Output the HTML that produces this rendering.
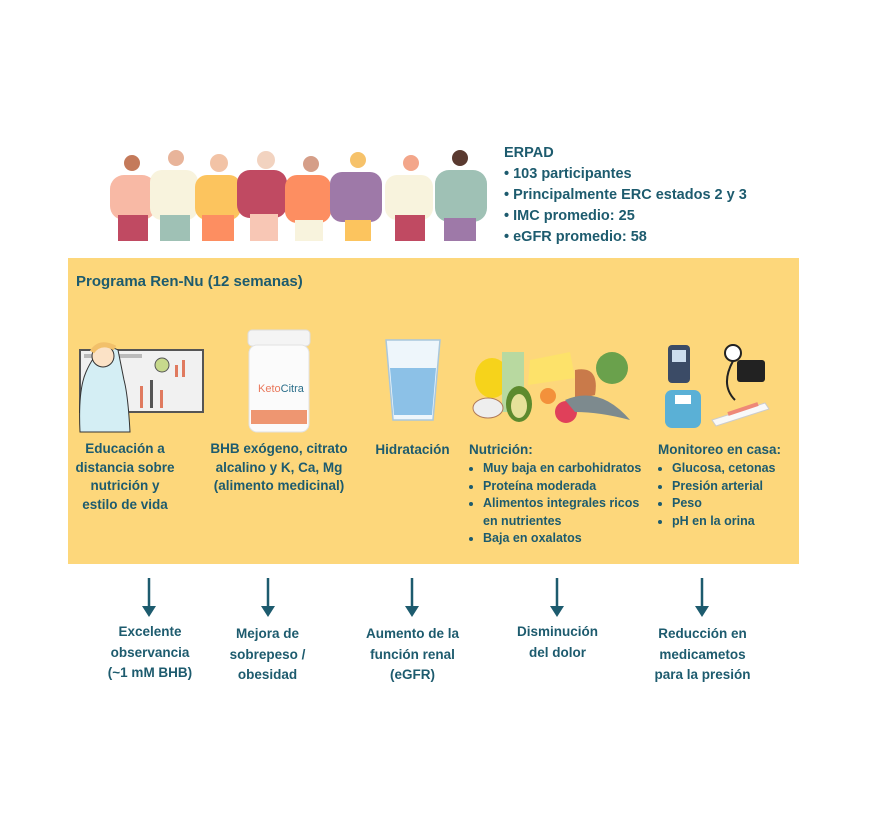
<!DOCTYPE html>
<html><head><meta charset="utf-8"><style>
body{margin:0;width:876px;height:826px;background:#fff;position:relative;overflow:hidden;font-family:"Liberation Sans",sans-serif;color:#1d5b6e;font-weight:bold}
.a{position:absolute;white-space:nowrap}
.c{text-align:center;font-size:13.5px;line-height:19px}
.l{font-size:12.5px;line-height:17.5px}
ul{margin:0;padding:0 0 0 14px}
</style></head><body>
<svg class="a" style="left:0;top:0" width="876" height="826">
<g>
<rect x="110" y="175" width="46" height="45" rx="14" fill="#f8b9a5"/><rect x="118" y="215" width="30" height="26" fill="#c04a62"/><circle cx="132" cy="163" r="8" fill="#c47a5a"/>
<rect x="150" y="170" width="48" height="50" rx="12" fill="#f8f3dd"/><rect x="160" y="215" width="30" height="26" fill="#9fc1b5"/><circle cx="176" cy="158" r="8" fill="#e8b49a"/>
<rect x="195" y="175" width="46" height="45" rx="12" fill="#fcc45e"/><rect x="202" y="215" width="32" height="26" fill="#fd8e61"/><circle cx="219" cy="163" r="9" fill="#f2c3a6"/>
<rect x="237" y="170" width="50" height="48" rx="13" fill="#c04a62"/><rect x="250" y="214" width="28" height="27" fill="#f8c7b5"/><circle cx="266" cy="160" r="9" fill="#f2d3c0"/>
<rect x="285" y="175" width="46" height="48" rx="12" fill="#fd8e61"/><rect x="295" y="220" width="28" height="21" fill="#f8f3dd"/><circle cx="311" cy="164" r="8" fill="#d59e88"/>
<rect x="330" y="172" width="52" height="50" rx="12" fill="#9e79a8"/><rect x="345" y="220" width="26" height="21" fill="#fcc45e"/><circle cx="358" cy="160" r="8" fill="#f6c26a"/>
<rect x="385" y="175" width="48" height="45" rx="12" fill="#f8f3dd"/><rect x="395" y="215" width="30" height="26" fill="#c04a62"/><circle cx="411" cy="163" r="8" fill="#f3a68a"/>
<rect x="435" y="170" width="52" height="52" rx="14" fill="#9fc1b5"/><rect x="444" y="218" width="32" height="23" fill="#9e79a8"/><circle cx="460" cy="158" r="8" fill="#5a3a30"/>
</g>
<rect x="68" y="258" width="731" height="306" fill="#fdd77b"/>
<rect x="80" y="350" width="123" height="62" fill="#f1f1f1" stroke="#555" stroke-width="2"/>
<rect x="140" y="386" width="3" height="22" fill="#e07a5f"/><rect x="150" y="380" width="3" height="28" fill="#555"/><rect x="160" y="390" width="3" height="18" fill="#e07a5f"/><rect x="175" y="365" width="3" height="12" fill="#e07a5f"/><rect x="182" y="360" width="3" height="17" fill="#e07a5f"/>
<circle cx="162" cy="365" r="7" fill="#c7d98c" stroke="#555"/>
<rect x="84" y="354" width="58" height="4" fill="#bbb"/>
<path d="M86 372 Q100 340 118 350 L124 380 Q128 395 130 432 L80 432 Q78 390 86 372Z" fill="#d4eef4" stroke="#333"/><circle cx="103" cy="356" r="11" fill="#fbe2c6" stroke="#333"/><path d="M92 352 Q100 340 115 348" stroke="#f2c06a" stroke-width="5" fill="none"/>
<rect x="248" y="330" width="62" height="16" rx="4" fill="#f4f4f4" stroke="#ddd"/>
<rect x="249" y="345" width="60" height="87" rx="8" fill="#fbfbfb" stroke="#e2e2e2"/>
<rect x="251" y="410" width="56" height="14" fill="#ee9671"/>
<text x="258" y="392" font-size="11" fill="#e9785c" font-weight="normal">Keto<tspan fill="#2a6e8a">Citra</tspan></text>
<path d="M386 340 L440 340 L433 420 L393 420Z" fill="#eef6fb" stroke="#a9c7dc" stroke-width="1.5"/>
<path d="M390 368 L436 368 L432 415 L394 415Z" fill="#8cc1e7"/>
<ellipse cx="492" cy="378" rx="17" ry="20" fill="#f6d31b"/><rect x="502" y="352" width="22" height="60" fill="#b8d9a0"/>
<path d="M530 360 L570 352 L575 378 L528 385Z" fill="#fde26a"/><circle cx="612" cy="368" r="16" fill="#6aa14c"/>
<path d="M575 370 Q600 365 595 395 L575 400Z" fill="#c97a4a"/>
<ellipse cx="519" cy="404" rx="13" ry="18" fill="#5d8a2e"/><ellipse cx="519" cy="406" rx="8" ry="12" fill="#e6e19a"/>
<ellipse cx="488" cy="408" rx="15" ry="10" fill="#eee" stroke="#b07a5a"/><circle cx="548" cy="396" r="8" fill="#f3913b"/>
<circle cx="566" cy="412" r="11" fill="#e0405a"/><path d="M565 400 Q600 385 630 420 Q600 412 575 412Z" fill="#7d8a8e"/>
<rect x="668" y="345" width="22" height="38" rx="4" fill="#3b4b66"/><rect x="672" y="350" width="14" height="12" fill="#cde"/>
<circle cx="733" cy="353" r="8" fill="#fff" stroke="#222" stroke-width="2"/><path d="M733 361 Q720 385 735 400" stroke="#222" stroke-width="2" fill="none"/><rect x="737" y="360" width="28" height="22" rx="3" fill="#222"/>
<rect x="665" y="390" width="36" height="38" rx="7" fill="#5ab0d6"/><rect x="675" y="395" width="16" height="9" fill="#fff"/>
<path d="M712 420 L765 403 L769 409 L716 426Z" fill="#f9f9f9" stroke="#ccc"/><path d="M728 414 L758 404" stroke="#e87" stroke-width="4"/>
<g stroke="#1d5b6e" stroke-width="2.5" fill="#1d5b6e">
<line x1="149" y1="578" x2="149" y2="608"/><path d="M142 606 L156 606 L149 617Z" stroke="none"/>
<line x1="268" y1="578" x2="268" y2="608"/><path d="M261 606 L275 606 L268 617Z" stroke="none"/>
<line x1="412" y1="578" x2="412" y2="608"/><path d="M405 606 L419 606 L412 617Z" stroke="none"/>
<line x1="557" y1="578" x2="557" y2="608"/><path d="M550 606 L564 606 L557 617Z" stroke="none"/>
<line x1="702" y1="578" x2="702" y2="608"/><path d="M695 606 L709 606 L702 617Z" stroke="none"/>
</g>
</svg>
<div class="a" style="left:504px;top:143px;font-size:14.5px;line-height:21px">ERPAD<br>• 103 participantes<br>• Principalmente ERC estados 2 y 3<br>• IMC promedio: 25<br>• eGFR promedio: 58</div>
<div class="a" style="left:76px;top:273px;font-size:15px">Programa Ren-Nu (12 semanas)</div>
<div class="a c" style="left:65px;top:440px;width:120px;line-height:18.5px">Educación a<br>distancia sobre<br>nutrición y<br>estilo de vida</div>
<div class="a c" style="left:199px;top:440px;width:160px;line-height:18.5px">BHB exógeno, citrato<br>alcalino y K, Ca, Mg<br>(alimento medicinal)</div>
<div class="a c" style="left:365px;top:440px;width:95px">Hidratación</div>
<div class="a" style="left:469px;top:440px;font-size:13.5px;line-height:19px">Nutrición:</div>
<div class="a l" style="left:469px;top:460px;width:190px"><ul><li>Muy baja en carbohidratos</li><li>Proteína moderada</li><li>Alimentos integrales ricos<br>en nutrientes</li><li>Baja en oxalatos</li></ul></div>
<div class="a" style="left:658px;top:440px;font-size:13.5px;line-height:19px">Monitoreo en casa:</div>
<div class="a l" style="left:658px;top:460px;width:140px"><ul><li>Glucosa, cetonas</li><li>Presión arterial</li><li>Peso</li><li>pH en la orina</li></ul></div>
<div class="a c" style="left:90px;top:622px;width:120px;line-height:20.5px">Excelente<br>observancia<br>(~1 mM BHB)</div>
<div class="a c" style="left:210px;top:624px;width:115px;line-height:20.5px">Mejora de<br>sobrepeso /<br>obesidad</div>
<div class="a c" style="left:345px;top:624px;width:135px;line-height:20.5px">Aumento de la<br>función renal<br>(eGFR)</div>
<div class="a c" style="left:500px;top:622px;width:115px;line-height:20.5px">Disminución<br>del dolor</div>
<div class="a c" style="left:640px;top:624px;width:125px;line-height:20.5px">Reducción en<br>medicametos<br>para la presión</div>
</body></html>
